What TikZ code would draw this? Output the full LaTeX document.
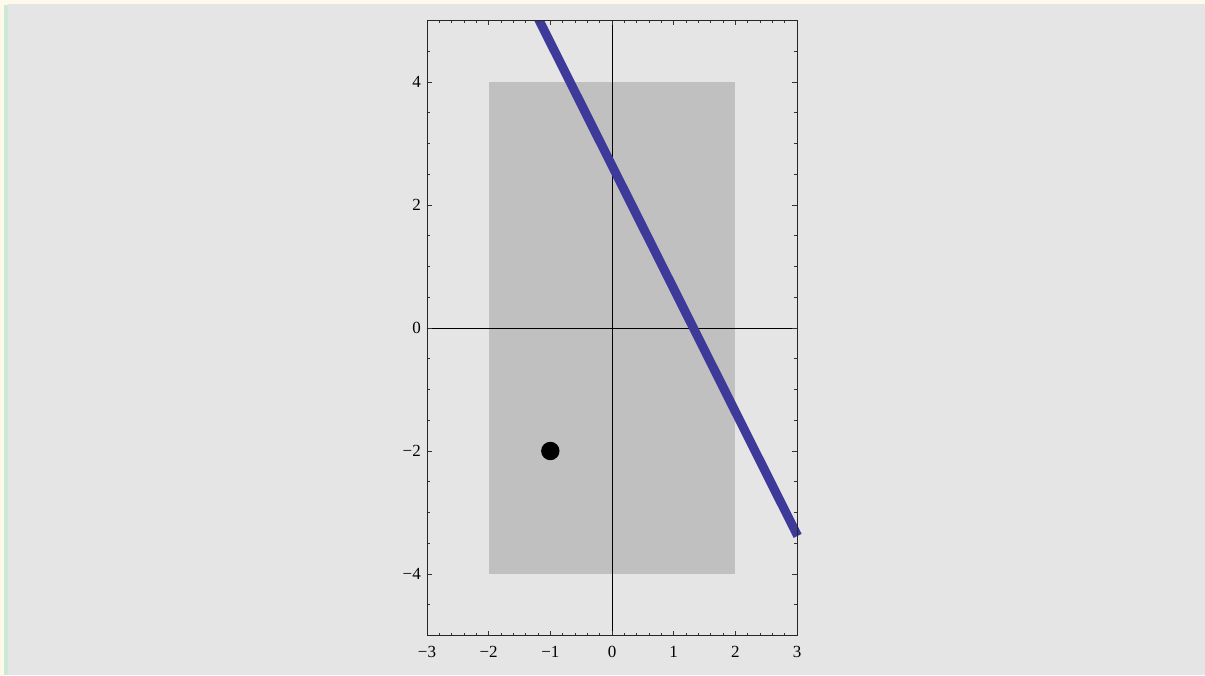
\documentclass[tikz,border=0pt]{standalone}
\usepackage{fontspec}
\setmainfont{Liberation Serif}
\definecolor{bgcream}{HTML}{FDFAEC}
\definecolor{bggreen}{HTML}{CDE8D5}
\definecolor{bggray}{HTML}{E5E5E5}
\definecolor{rectgray}{HTML}{C0C0C0}
\definecolor{lineblue}{HTML}{3D3A9A}
\begin{document}
\begin{tikzpicture}[x=1pt,y=1pt,
  ticklbl/.style={font=\fontsize{17}{17}\selectfont, inner sep=0pt},
  tickline/.style={line width=0.8pt, black!80},
  axisline/.style={line width=0.7pt, black}]
\useasboundingbox (0,0) rectangle (1205,675);
\fill[bgcream] (0,0) rectangle (1205,675);
\fill[bggreen] (4,0) rectangle (8,670);
\fill[bggray] (8,0) rectangle (1205,671);
\begin{scope}[shift={(612,347)}, x=61.67pt, y=61.5pt]
  \fill[rectgray] (-2,-4) rectangle (2,4);
  \draw[axisline] (-3,0) -- (3,0);
  \draw[axisline] (0,-5) -- (0,5);
  \begin{scope}
    \clip (-3,-5) rectangle (3.3,5);
    \draw[lineblue, line width=9pt] ({(2.64-5.5)/2},5.5) -- (3.01,{2.64-6.02});
  \end{scope}
  \fill[black] (-1,-2) circle (9.2pt);
  % ticks
  \foreach \k in {-15,...,15} {
    \draw[tickline] (\k/5,-5) -- ++(0,3pt);
    \draw[tickline] (\k/5,5) -- ++(0,-3pt);
  }
  \foreach \i in {-3,...,3} {
    \draw[tickline] (\i,-5) -- ++(0,5pt);
    \draw[tickline] (\i,5) -- ++(0,-5pt);
  }
  \foreach \k in {-10,...,10} {
    \draw[tickline] (-3,\k/2) -- ++(3pt,0);
    \draw[tickline] (3,\k/2) -- ++(-3pt,0);
  }
  \foreach \j in {-4,-2,0,2,4} {
    \draw[tickline] (-3,\j) -- ++(5pt,0);
    \draw[tickline] (3,\j) -- ++(-5pt,0);
  }
  \draw[line width=0.9pt, black!85] (-3,-5) rectangle (3,5);
  % labels
  \node[ticklbl, anchor=base] (xm3) at ([yshift=-22pt]-3,-5) {−3};
  \node[ticklbl, anchor=base] (xm2) at ([yshift=-22pt]-2,-5) {−2};
  \node[ticklbl, anchor=base] (xm1) at ([yshift=-22pt]-1,-5) {−1};
  \node[ticklbl, anchor=base] (x0) at ([yshift=-22pt]0,-5) {0};
  \node[ticklbl, anchor=base] (x1) at ([yshift=-22pt]1,-5) {1};
  \node[ticklbl, anchor=base] (x2) at ([yshift=-22pt]2,-5) {2};
  \node[ticklbl, anchor=base] (x3) at ([yshift=-22pt]3,-5) {3};
  \node[ticklbl, anchor=east] (ym4) at ([xshift=-6pt]-3,-4) {−4};
  \node[ticklbl, anchor=east] (ym2) at ([xshift=-6pt]-3,-2) {−2};
  \node[ticklbl, anchor=east] (y0) at ([xshift=-6pt]-3,0) {0};
  \node[ticklbl, anchor=east] (y2) at ([xshift=-6pt]-3,2) {2};
  \node[ticklbl, anchor=east] (y4) at ([xshift=-6pt]-3,4) {4};
\end{scope}
\end{tikzpicture}
\end{document}
